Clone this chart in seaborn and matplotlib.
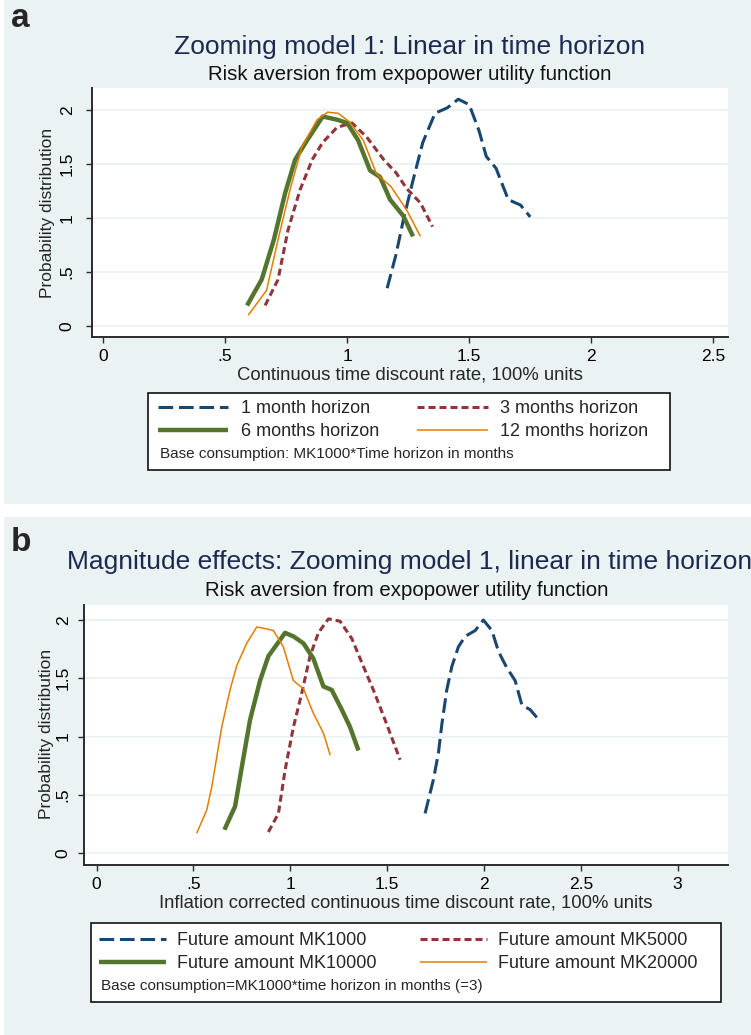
import numpy as np
import matplotlib
matplotlib.use("Agg")
import matplotlib.pyplot as plt
from matplotlib.patches import Rectangle
import seaborn as sns

# ---- panel a: zooming model 1, by time horizon ----
h1_x = [1.164, 1.20, 1.23, 1.27, 1.31, 1.36, 1.41, 1.455, 1.50, 1.54, 1.57, 1.61, 1.66, 1.71, 1.75]
h1_y = [0.35, 0.66, 0.98, 1.35, 1.70, 1.97, 2.02, 2.10, 2.05, 1.81, 1.57, 1.46, 1.17, 1.12, 1.01]
h3_x = [0.664, 0.717, 0.758, 0.807, 0.857, 0.90, 0.959, 1.02, 1.08, 1.15, 1.20, 1.245, 1.30, 1.35]
h3_y = [0.19, 0.43, 0.89, 1.26, 1.54, 1.70, 1.84, 1.88, 1.75, 1.54, 1.42, 1.27, 1.14, 0.92]
h6_x = [0.59, 0.65, 0.70, 0.746, 0.787, 0.836, 0.90, 0.96, 1.0, 1.045, 1.094, 1.135, 1.176, 1.23, 1.27]
h6_y = [0.19, 0.43, 0.80, 1.23, 1.54, 1.72, 1.94, 1.91, 1.88, 1.72, 1.44, 1.38, 1.17, 1.02, 0.83]
h12_x = [0.595, 0.67, 0.717, 0.766, 0.815, 0.877, 0.92, 0.963, 1.01, 1.066, 1.12, 1.18, 1.245, 1.30]
h12_y = [0.10, 0.33, 0.80, 1.26, 1.66, 1.91, 1.98, 1.97, 1.89, 1.72, 1.41, 1.29, 1.07, 0.83]
labels_a = ["1 month horizon", "3 months horizon", "6 months horizon", "12 months horizon"]

# ---- panel b: magnitude effects ----
mk1000_x = [1.696, 1.739, 1.765, 1.783, 1.808, 1.834, 1.868, 1.903, 1.955, 1.997, 2.041, 2.075,
            2.118, 2.161, 2.196, 2.239, 2.29]
mk1000_y = [0.34, 0.63, 0.86, 1.11, 1.40, 1.60, 1.77, 1.86, 1.91, 2.00, 1.91, 1.73,
            1.59, 1.48, 1.27, 1.23, 1.13]
mk5000_x = [0.887, 0.939, 0.973, 1.016, 1.059, 1.102, 1.145, 1.197, 1.257, 1.318, 1.378, 1.429, 1.49, 1.567]
mk5000_y = [0.18, 0.34, 0.71, 1.08, 1.37, 1.69, 1.89, 2.01, 1.99, 1.84, 1.60, 1.40, 1.14, 0.80]
mk10000_x = [0.66, 0.715, 0.75, 0.792, 0.844, 0.887, 0.939, 0.973, 1.016, 1.068, 1.119, 1.171,
             1.214, 1.266, 1.309, 1.352]
mk10000_y = [0.20, 0.40, 0.74, 1.14, 1.48, 1.69, 1.81, 1.89, 1.86, 1.80, 1.67, 1.43,
             1.40, 1.23, 1.08, 0.88]
mk20000_x = [0.517, 0.569, 0.595, 0.646, 0.689, 0.724, 0.775, 0.827, 0.861, 0.913, 0.964, 1.016,
             1.068, 1.119, 1.171, 1.206]
mk20000_y = [0.17, 0.37, 0.57, 1.08, 1.40, 1.61, 1.80, 1.94, 1.93, 1.91, 1.77, 1.48,
             1.41, 1.20, 1.03, 0.84]
labels_b = ["Future amount MK1000", "Future amount MK5000", "Future amount MK10000", "Future amount MK20000"]

y_ticks = [0, 0.5, 1, 1.5, 2]
y_ticklabels = ["0", ".5", "1", "1.5", "2"]
xa_ticks = [0, 0.5, 1, 1.5, 2, 2.5]
xa_ticklabels = ["0", ".5", "1", "1.5", "2", "2.5"]
xb_ticks = [0, 0.5, 1, 1.5, 2, 2.5, 3]
xb_ticklabels = ["0", ".5", "1", "1.5", "2", "2.5", "3"]

# stata s2color-like styles
BG = "#EAF2F3"
COLORS = ["#1A476F", "#90353B", "#55752F", "#E37E00"]
WIDTHS = [2.2, 2.2, 3.2, 1.1]
DASHES = [(4.8, 1.9), (2.3, 1.3), None, None]
TITLE_C = "#1C2A4F"

sns.set_theme(style="white")
plt.rcParams["font.family"] = ["Liberation Sans", "DejaVu Sans"]

W, H = 751, 1035
fig = plt.figure(figsize=(W / 100, H / 100), dpi=100)
fig.patch.set_facecolor("white")


def fx(px):
    return px / W


def fy(py):
    return 1 - py / H


# grey panel backgrounds
for top, bot in [(0, 504), (517, 1035)]:
    fig.add_artist(Rectangle((fx(4), fy(bot)), 1 - fx(4), (bot - top) / H,
                             transform=fig.transFigure, facecolor=BG, edgecolor="none", zorder=-2))


def draw_panel(box, series, xlim, ylim, xticks, xticklabels, xlabel, ypad):
    ax = fig.add_axes(box)
    ax.set_facecolor("white")
    for (xs, ys), c, lw, d in zip(series, COLORS, WIDTHS, DASHES):
        sns.lineplot(x=xs, y=ys, ax=ax, color=c, linewidth=lw, sort=False,
                     estimator=None, legend=False)
        line = ax.lines[-1]
        line.set_solid_capstyle("butt")
        if d is not None:
            line.set_dashes(d)
    ax.set_xlim(*xlim)
    ax.set_ylim(*ylim)
    ax.set_xticks(xticks, xticklabels)
    ax.set_yticks(y_ticks, y_ticklabels)
    ax.yaxis.grid(True, color=BG, lw=1.3)
    ax.xaxis.grid(False)
    ax.set_axisbelow(True)
    for s in ["top", "right"]:
        ax.spines[s].set_visible(False)
    for s in ["left", "bottom"]:
        ax.spines[s].set_color("#2b2b2b")
        ax.spines[s].set_linewidth(1.4)
    ax.tick_params(axis="both", direction="out", length=4.5, width=1, color="#2b2b2b",
                   labelsize=12.5, labelcolor="black", left=True, bottom=True)
    ax.tick_params(axis="x", pad=4)
    ax.tick_params(axis="y", labelrotation=90, pad=ypad)
    for t in ax.get_yticklabels():
        t.set_va("center")
    ax.set_xlabel(xlabel, fontsize=13.3, va="center")
    ax.set_ylabel("Probability distribution", fontsize=12.5, va="center")
    return ax


def add_legend(ax, labels, anchor, hl, htp, colsp):
    # stata fills the legend row by row; matplotlib fills column by column
    order = [0, 2, 1, 3]
    fig.legend([ax.lines[i] for i in order], [labels[i] for i in order],
               loc="upper left", bbox_to_anchor=anchor, ncol=2, frameon=False,
               fontsize=13, handlelength=hl, handletextpad=htp, columnspacing=colsp,
               labelspacing=0.35, borderpad=0, borderaxespad=0)


# ---------------- panel a ----------------
ax_a = draw_panel([fx(92), fy(337), fx(636), 249 / H],
                  [(h1_x, h1_y), (h3_x, h3_y), (h6_x, h6_y), (h12_x, h12_y)],
                  (-0.045, 2.56), (-0.102, 2.204), xa_ticks, xa_ticklabels,
                  "Continuous time discount rate, 100% units", 8)
ax_a.xaxis.set_label_coords(0.5, (337 - 375) / 249)
ax_a.yaxis.set_label_coords((48 - 92) / 636, 0.5)

fig.text(fx(11), fy(27), "a", fontsize=24, fontweight="bold", va="baseline", ha="left")
fig.text(fx(410), fy(47), "Zooming model 1: Linear in time horizon", fontsize=19,
         color=TITLE_C, ha="center", va="center")
fig.text(fx(410), fy(75), "Risk aversion from expopower utility function", fontsize=14.7,
         color="#111111", ha="center", va="center")

fig.add_artist(Rectangle((fx(148), fy(470)), fx(522), 77 / H, transform=fig.transFigure,
                         facecolor="white", edgecolor="#111111", lw=1.2, zorder=1))
add_legend(ax_a, labels_a, (fx(158), fy(400)), 3.9, 0.7, 2.1)
fig.text(fx(160), fy(454), "Base consumption: MK1000*Time horizon in months", fontsize=11,
         ha="left", va="center")

# ---------------- panel b ----------------
ax_b = draw_panel([fx(84), fy(865), fx(644), 260 / H],
                  [(mk1000_x, mk1000_y), (mk5000_x, mk5000_y), (mk10000_x, mk10000_y),
                   (mk20000_x, mk20000_y)],
                  (-0.065, 3.26), (-0.103, 2.129), xb_ticks, xb_ticklabels,
                  "Inflation corrected continuous time discount rate, 100% units", 5)
ax_b.xaxis.set_label_coords(0.5, (865 - 903) / 260)
ax_b.yaxis.set_label_coords((47 - 84) / 644, 0.504)

fig.text(fx(11), fy(551), "b", fontsize=24, fontweight="bold", va="baseline", ha="left")
fig.text(fx(410), fy(562), "Magnitude effects: Zooming model 1, linear in time horizon",
         fontsize=19, color=TITLE_C, ha="center", va="center")
fig.text(fx(407), fy(590), "Risk aversion from expopower utility function", fontsize=14.7,
         color="#111111", ha="center", va="center")

fig.add_artist(Rectangle((fx(91), fy(1002)), fx(630), 79 / H, transform=fig.transFigure,
                         facecolor="white", edgecolor="#111111", lw=1.2, zorder=1))
add_legend(ax_b, labels_b, (fx(99), fy(932)), 3.7, 0.6, 2.45)
fig.text(fx(101), fy(986), "Base consumption=MK1000*time horizon in months (=3)", fontsize=11,
         ha="left", va="center")

fig.savefig("out.png", dpi=100)
plt.close(fig)
print("Saved: out.png")
